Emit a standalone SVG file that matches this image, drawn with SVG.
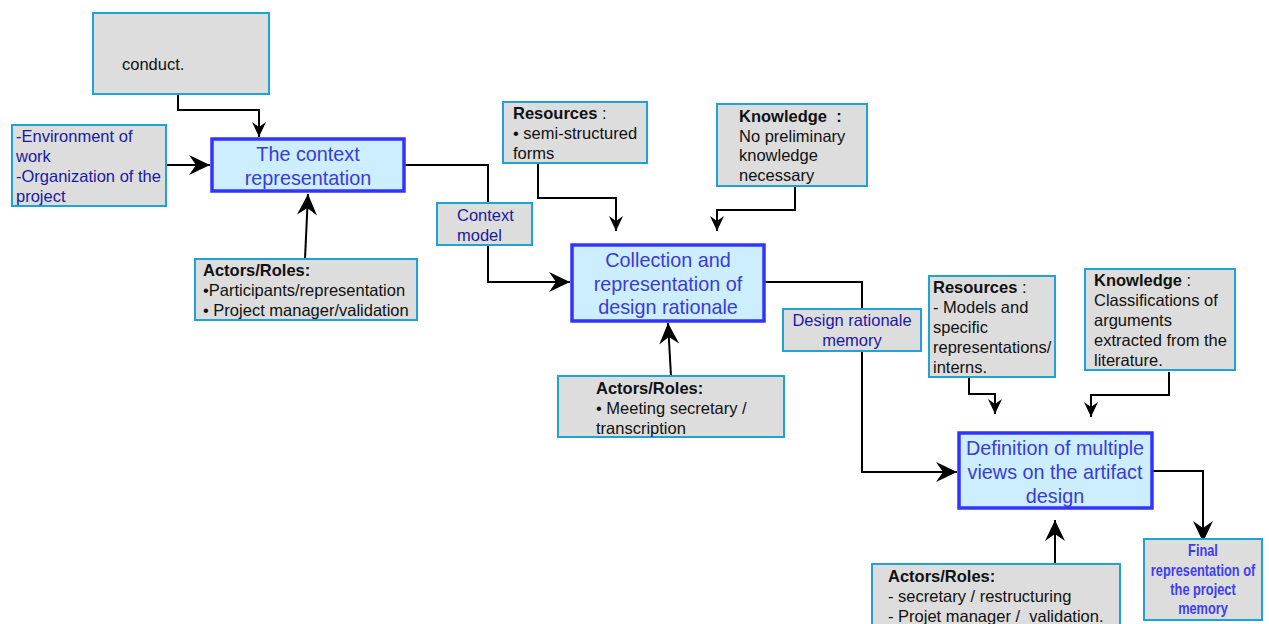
<svg xmlns="http://www.w3.org/2000/svg" width="1269" height="624" viewBox="0 0 1269 624">
<style>
.box{fill:#dddddd;stroke:#1ea3d3;stroke-width:2}
.main{fill:#cceeff;stroke:#3333ff;stroke-width:3.5}
.t{font-family:"Liberation Sans",Arial,sans-serif;font-size:16.5px;fill:#111}
.b{font-weight:bold}
.nv{fill:#1a1aa0}
.mt{font-family:"Liberation Sans",Arial,sans-serif;font-size:19.8px;fill:#3b3bd8;text-anchor:middle}
.fin{font-family:"Liberation Sans",Arial,sans-serif;font-size:16px;font-weight:bold;fill:#3d3df0;text-anchor:middle}
.c{fill:none;stroke:#000;stroke-width:2}
</style>
<defs>
<marker id="big" markerUnits="userSpaceOnUse" markerWidth="24" markerHeight="24" viewBox="-22 -12 24 24" refX="0" refY="0" orient="auto">
<path d="M0,0 L-21,-10 L-14,0 L-21,10 Z" fill="#000"/>
</marker>
<marker id="sm" markerUnits="userSpaceOnUse" markerWidth="18" markerHeight="18" viewBox="-16 -9 18 18" refX="0" refY="0" orient="auto">
<path d="M0,0 L-15,-7 L-10,0 L-15,7 Z" fill="#000"/>
</marker>
</defs>

<g id="connectors">
<path class="c" d="M178,94 V110 H259 V137" marker-end="url(#sm)"/>
<path class="c" d="M166,165 H210" marker-end="url(#big)"/>
<path class="c" d="M305,259 L308,194" marker-end="url(#big)"/>
<path class="c" d="M404,165 H488 V282 H570" marker-end="url(#big)"/>
<path class="c" d="M538,163 V198 H616 V231" marker-end="url(#sm)"/>
<path class="c" d="M795,186 V210 H717 V231" marker-end="url(#sm)"/>
<path class="c" d="M671,376 L668,323" marker-end="url(#big)"/>
<path class="c" d="M764,282 H862 V472 H957" marker-end="url(#big)"/>
<path class="c" d="M969,377 V394 H995 V414" marker-end="url(#sm)"/>
<path class="c" d="M1169,372 V395 H1091 V417" marker-end="url(#sm)"/>
<path class="c" d="M1055,563 V520" marker-end="url(#big)"/>
<path class="c" d="M1152,471 H1203 V542" marker-end="url(#big)"/>
</g>

<g id="conduct">
<rect class="box" x="93" y="13" width="176" height="81"/>
<text class="t" x="122" y="70">conduct.</text>
</g>

<g id="environment">
<rect class="box" x="12" y="125" width="154" height="81"/>
<text class="t nv" x="16" y="142">-Environment of</text>
<text class="t nv" x="16" y="162">work</text>
<text class="t nv" x="16" y="182">-Organization of the</text>
<text class="t nv" x="16" y="202">project</text>
</g>

<g id="context-representation">
<rect class="main" x="212" y="139" width="192" height="52"/>
<text class="mt" x="308" y="161">The context</text>
<text class="mt" x="308" y="185">representation</text>
</g>

<g id="actors1">
<rect class="box" x="195" y="259" width="222" height="61"/>
<text class="t b" x="203" y="276">Actors/Roles:</text>
<text class="t" x="203" y="296">•Participants/representation</text>
<text class="t" x="203" y="316">• Project manager/validation</text>
</g>

<g id="context-model">
<rect class="box" x="437" y="203" width="95" height="42"/>
<text class="t nv" x="457" y="221">Context</text>
<text class="t nv" x="457" y="241">model</text>
</g>

<g id="resources1">
<rect class="box" x="503" y="102" width="144" height="61"/>
<text class="t" x="513" y="119"><tspan class="b">Resources</tspan> :</text>
<text class="t" x="513" y="139">• semi-structured</text>
<text class="t" x="513" y="159">forms</text>
</g>

<g id="knowledge1">
<rect class="box" x="717" y="104" width="150" height="82"/>
<text class="t b" x="739" y="122" xml:space="preserve">Knowledge  :</text>
<text class="t" x="739" y="142">No preliminary</text>
<text class="t" x="739" y="161">knowledge</text>
<text class="t" x="739" y="181">necessary</text>
</g>

<g id="collection">
<rect class="main" x="572" y="245" width="192" height="76"/>
<text class="mt" x="668" y="267">Collection and</text>
<text class="mt" x="668" y="290.5">representation of</text>
<text class="mt" x="668" y="314">design rationale</text>
</g>

<g id="actors2">
<rect class="box" x="558" y="376" width="226" height="61"/>
<text class="t b" x="596" y="394">Actors/Roles:</text>
<text class="t" x="596" y="414">• Meeting secretary /</text>
<text class="t" x="596" y="434">transcription</text>
</g>

<g id="design-rationale-memory">
<rect class="box" x="783" y="309" width="138" height="42"/>
<text class="t nv" x="852" y="326" text-anchor="middle">Design rationale</text>
<text class="t nv" x="852" y="346" text-anchor="middle">memory</text>
</g>

<g id="resources2">
<rect class="box" x="929" y="276" width="126" height="101"/>
<text class="t" x="933" y="293"><tspan class="b">Resources</tspan> :</text>
<text class="t" x="933" y="313">- Models and</text>
<text class="t" x="933" y="333">specific</text>
<text class="t" x="933" y="353">representations/</text>
<text class="t" x="933" y="373">interns.</text>
</g>

<g id="knowledge2">
<rect class="box" x="1085" y="269" width="150" height="101"/>
<text class="t" x="1094" y="286"><tspan class="b">Knowledge</tspan> :</text>
<text class="t" x="1094" y="306">Classifications of</text>
<text class="t" x="1094" y="326">arguments</text>
<text class="t" x="1094" y="346">extracted from the</text>
<text class="t" x="1094" y="366">literature.</text>
</g>

<g id="definition">
<rect class="main" x="959" y="433" width="193" height="75"/>
<text class="mt" x="1055" y="455">Definition of multiple</text>
<text class="mt" x="1055" y="479">views on the artifact</text>
<text class="mt" x="1055" y="503">design</text>
</g>

<g id="actors3">
<rect class="box" x="872" y="564" width="248" height="70"/>
<text class="t b" x="888" y="582">Actors/Roles:</text>
<text class="t" x="888" y="602">- secretary / restructuring</text>
<text class="t" x="888" y="622" xml:space="preserve">- Projet manager /  validation.</text>
</g>

<g id="final">
<rect class="box" x="1144" y="539" width="118" height="81"/>
<g transform="translate(1203,0) scale(0.8,1)">
<text class="fin" x="0" y="556">Final</text>
<text class="fin" x="0" y="576">representation of</text>
<text class="fin" x="0" y="595">the project</text>
<text class="fin" x="0" y="614">memory</text>
</g>
</g>
</svg>
